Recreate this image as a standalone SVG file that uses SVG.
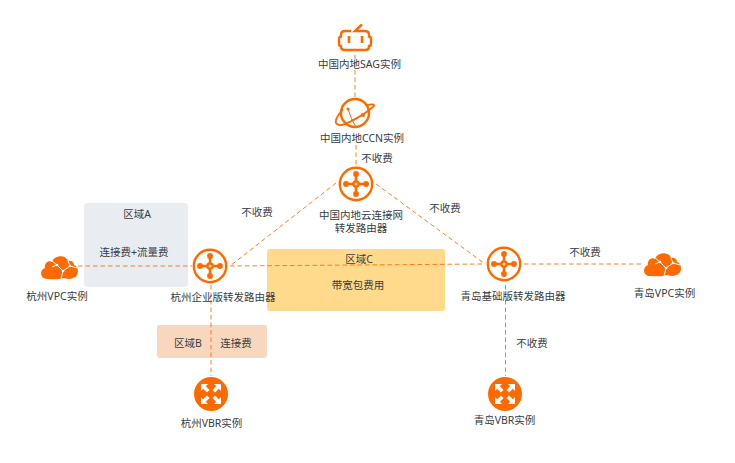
<svg xmlns="http://www.w3.org/2000/svg" width="735" height="463" viewBox="0 0 735 463">
<defs>
<style>
text{font-family:"Noto Sans","Noto Sans CJK SC",sans-serif;font-size:10.5px;fill:#373d41;text-anchor:middle}
.c{fill:none;stroke:#ff6a00;stroke-width:1;stroke-dasharray:4.500 3;opacity:.85}
.s{fill:none;stroke:#ff6a00;stroke-width:2.400}
.f{fill:#ff6a00}
.w{fill:none;stroke:#fff;stroke-width:1}
.wf{fill:#fff}
</style>
<g id="router">
<circle r="16.200" class="s"/>
<path d="M-11 0H11M0-11V11" stroke="#ff6a00" stroke-width="2.600" fill="none"/>
<circle cx="-10" r="2.900" class="f"/><circle cx="10" r="2.900" class="f"/><circle cy="-10" r="2.900" class="f"/><circle cy="10" r="2.900" class="f"/>
<circle r="3.800" class="f"/><circle r="1.500" fill="#ffd9b8"/>
</g>
<g id="cloud">
<path class="f" d="M-12 12C-19 12 -20 3 -14 1C-15-4 -10-7 -7-5C-5-12 7-13 9-6C12-7 15-5 15-2C20-1 21 9 14 11C10 13 6 11 4 11C0 13 -6 12 -12 12Z"/>
<path class="w" d="M-8-7L-2-2L4 4L2 12M4 4L11-1L18 1M11-1L9-6M-2-2L-7 0"/>
<circle cx="-2" cy="-2" r="1.300" class="wf"/><circle cx="4" cy="4" r="1.300" class="wf"/><circle cx="11" cy="-1" r="1.300" class="wf"/>
</g>
<g id="vbr">
<circle r="17" class="f"/>
<path class="wf" d="M-10-10L-3-10L-5.200-7.800L-1.500-4.100L-4.100-1.500L-7.800-5.200L-10-3Z"/>
<path class="wf" d="M10-10L3-10L5.200-7.800L1.500-4.100L4.100-1.500L7.800-5.200L10-3Z"/>
<path class="wf" d="M-10 10L-3 10L-5.200 7.800L-1.500 4.100L-4.100 1.500L-7.800 5.200L-10 3Z"/>
<path class="wf" d="M10 10L3 10L5.200 7.800L1.500 4.100L4.100 1.500L7.800 5.200L10 3Z"/>
</g>
</defs>
<rect width="735" height="463" fill="#fff"/>
<g id="regions">
<rect x="84" y="203" width="104" height="84" rx="4" fill="#e9ecf1"/>
<rect x="267" y="249" width="178" height="62" rx="3" fill="#ffd98c"/>
<rect x="157" y="325" width="110" height="33" rx="3" fill="#f9d7bf"/>
</g>
<g id="connectors">
<path class="c" d="M355 55V97"/>
<path class="c" d="M356 145V165"/>
<path class="c" d="M336 183L230 266"/>
<path class="c" d="M376 184L485 264"/>
<path class="c" d="M78 266H192"/>
<path class="c" d="M230 266L485 264"/>
<path class="c" d="M524 264H642"/>
<path class="c" d="M211 285V376"/>
<path class="c" d="M505.500 285V376"/>
</g>
<g id="sag">
<path class="s" d="M351 31H345Q341 31 341 35V36.500Q339 37 339 39V44Q339 46 341 46V47Q341 50 345 50H365Q369 50 369 47V46Q371 46 371 44V39Q371 37 369 36.500V35Q369 31 365 31H355L362 24.500"/>
<path d="M349 36V43M362 36V43" stroke="#ff6a00" stroke-width="2.600" fill="none"/>
<text x="359.500" y="68">中国内地SAG实例</text>
</g>
<g id="ccn">
<circle cx="355" cy="113" r="14" class="s"/>
<path class="s" style="stroke-width:1.800" d="M343 109C336 117 333 124 339 125C346 126 366 113 373 107C376 104 372 104 367 105"/>
<path d="M348 109L352 120L363 115M352 120L356 127" stroke="#ff6a00" stroke-width="1" fill="none"/>
<circle cx="363" cy="115" r="2" class="f"/><circle cx="348" cy="109" r="1.500" class="f"/>
<text x="362" y="142">中国内地CCN实例</text>
</g>
<g id="top-router">
<use href="#router" x="356" y="184"/>
<text x="361" y="219">中国内地云连接网<tspan x="361" dy="12.700">转发路由器</tspan></text>
</g>
<g id="hz-router">
<use href="#router" x="210" y="266"/>
<text x="223" y="301">杭州企业版转发路由器</text>
</g>
<g id="qd-router">
<use href="#router" x="504" y="264"/>
<text x="513" y="300">青岛基础版转发路由器</text>
</g>
<g id="hz-vpc">
<use href="#cloud" x="59" y="267"/>
<text x="57" y="300">杭州VPC实例</text>
</g>
<g id="qd-vpc">
<use href="#cloud" x="662" y="264"/>
<text x="664.500" y="297">青岛VPC实例</text>
</g>
<g id="hz-vbr">
<use href="#vbr" x="211" y="394"/>
<text x="211.500" y="427">杭州VBR实例</text>
</g>
<g id="qd-vbr">
<use href="#vbr" x="505" y="394"/>
<text x="504.500" y="424">青岛VBR实例</text>
</g>
<g id="labels">
<text x="137" y="218">区域A</text>
<text x="134" y="256">连接费+流量费</text>
<text x="359" y="263">区域C</text>
<text x="358" y="289">带宽包费用</text>
<text x="188" y="347">区域B</text>
<text x="236" y="347">连接费</text>
<text x="377" y="162">不收费</text>
<text x="257" y="216">不收费</text>
<text x="445" y="212">不收费</text>
<text x="585" y="256">不收费</text>
<text x="532" y="347">不收费</text>
</g>
</svg>
